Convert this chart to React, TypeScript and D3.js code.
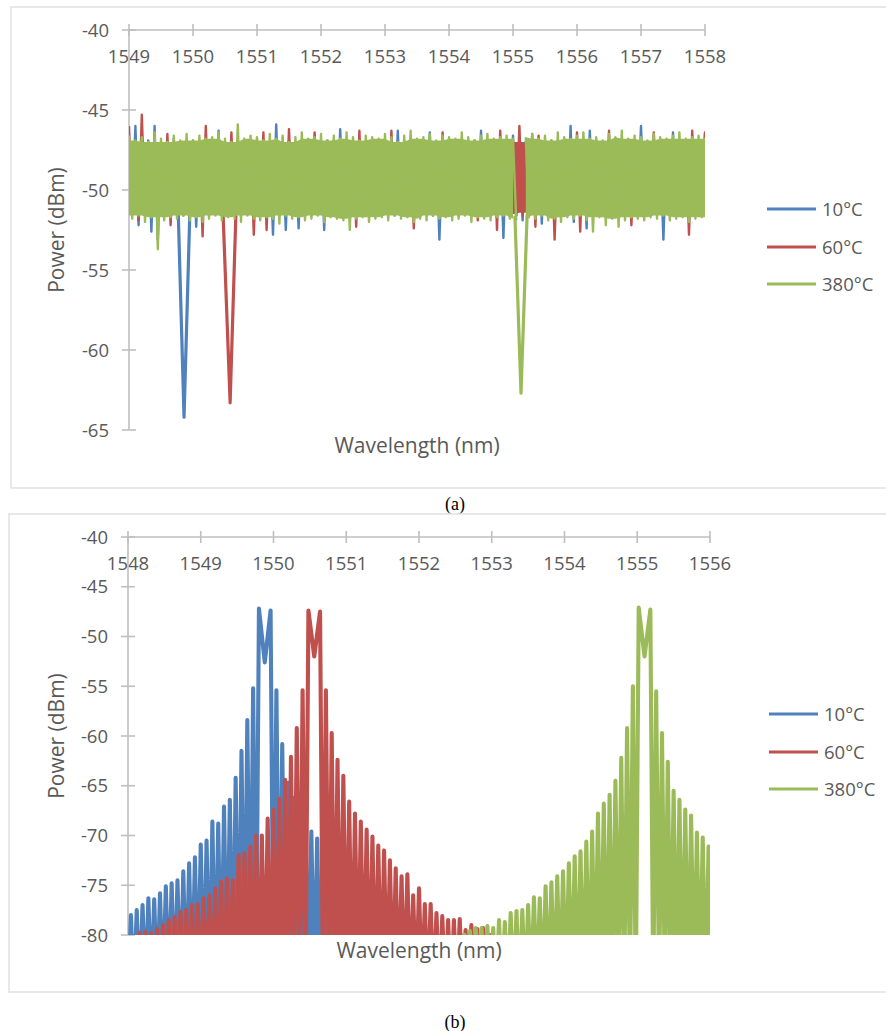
import React, { useEffect, useRef } from 'react';
import * as d3 from 'd3';

type Pt = [number, number | null];

// --- shared legend ---
const seriesNames = ['10°C', '60°C', '380°C'];
const seriesColors = ['#4f81bd', '#c0504d', '#9bbb59'];

// --- (a) transmission: samples every 0.1 nm from 1549.0, local max (hi) then local min (lo) ---
const aStart = 1549.0;
const aStep = 0.1;
const aXTicks = [1549, 1550, 1551, 1552, 1553, 1554, 1555, 1556, 1557, 1558];
const aYTicks = [-40, -45, -50, -55, -60, -65];

const blueHiA = [
  -47.0, -46.0, -47.1, -46.9, -46.0, -47.2, -47.0, -46.8, -47.1, -47.0,
  -46.9, -47.2, -47.0, -46.9, -46.3, -47.1, -47.0, -46.9, -47.2, -47.0,
  -46.8, -47.1, -47.0, -45.9, -47.1, -46.9, -47.0, -47.2, -46.9, -47.0,
  -47.1, -46.9, -47.0, -46.2, -47.1, -47.0, -46.9, -47.2, -47.0, -46.9,
  -47.1, -47.0, -46.3, -47.1, -47.0, -46.9, -47.2, -46.4, -47.0, -47.1,
  -46.9, -47.0, -47.2, -46.9, -47.0, -46.3, -47.1, -47.0, -46.9, -47.0,
  -46.6, -46.8, -47.0, -46.5, -47.1, -46.9, -47.0, -47.2, -46.9, -46.0,
  -47.0, -46.9, -46.3, -47.1, -47.0, -46.9, -47.2, -47.0, -46.9, -47.1,
  -46.0, -47.0, -47.1, -46.9, -47.0, -46.4, -47.1, -47.0, -46.9, -47.2, -46.5,
];
const blueLoA = [
  -51.5, -52.2, -51.4, -52.6, -53.1, -51.5, -51.3, -51.6, -51.4, -51.5,
  -52.3, -51.4, -51.6, -51.3, -51.5, -51.4, -51.6, -51.5, -51.3, -51.4,
  -51.6, -51.5, -52.8, -51.4, -52.5, -51.5, -52.4, -51.3, -51.6, -51.4,
  -52.5, -51.5, -51.4, -51.6, -51.3, -51.5, -51.4, -51.6, -51.5, -51.3,
  -51.4, -51.6, -51.5, -51.4, -51.6, -51.3, -51.5, -51.4, -53.1, -51.5,
  -51.4, -51.6, -51.5, -51.3, -51.4, -51.6, -51.5, -51.4, -53.0, -51.5,
  -51.6, -51.9, -51.4, -51.5, -52.1, -51.4, -51.6, -51.3, -51.5, -52.0,
  -51.4, -52.4, -51.5, -51.6, -51.3, -51.5, -51.4, -51.6, -51.5, -51.3,
  -51.4, -51.6, -51.5, -53.1, -51.4, -51.5, -51.6, -51.3, -51.5, -51.4, -52.3,
];
const redHiA = [
  -46.0, -47.1, -45.3, -47.0, -46.9, -47.2, -46.5, -47.0, -47.1, -46.9,
  -47.0, -47.2, -46.0, -47.1, -46.9, -47.0, -46.4, -47.1, -46.9, -47.0,
  -47.2, -46.4, -47.0, -46.9, -47.1, -46.2, -47.0, -46.9, -47.2, -46.4,
  -47.0, -47.1, -46.9, -47.0, -47.2, -46.9, -46.3, -47.0, -47.1, -46.9,
  -47.0, -46.3, -47.1, -46.9, -47.0, -47.2, -46.9, -47.0, -47.1, -46.4,
  -47.0, -46.9, -47.2, -47.0, -46.9, -47.1, -47.0, -46.9, -46.3, -47.0,
  -46.9, -46.0, -47.0, -47.1, -46.6, -47.0, -46.9, -47.2, -47.0, -46.9,
  -46.4, -47.1, -47.0, -46.9, -47.2, -46.3, -47.0, -46.9, -47.1, -47.0,
  -46.9, -47.2, -46.4, -47.0, -46.9, -47.1, -47.0, -46.9, -46.3, -47.0, -46.4,
];
const redLoA = [
  -51.5, -51.9, -51.4, -51.6, -51.5, -51.3, -52.2, -51.4, -51.6, -51.5,
  -51.4, -52.9, -51.5, -51.3, -51.6, -51.4, -51.5, -51.6, -51.4, -52.8,
  -51.5, -52.5, -51.4, -51.6, -51.3, -51.5, -51.4, -51.6, -51.5, -51.4,
  -51.3, -51.6, -51.5, -51.4, -51.6, -52.3, -51.5, -51.4, -51.3, -51.6,
  -51.5, -51.4, -51.6, -51.5, -52.4, -51.4, -51.5, -51.6, -51.3, -51.5,
  -51.4, -51.6, -51.5, -51.4, -51.9, -51.5, -51.6, -52.5, -51.4, -51.5,
  -51.6, -51.6, -51.4, -52.3, -51.5, -51.6, -53.1, -51.4, -51.5, -51.6,
  -52.6, -51.5, -51.4, -51.6, -51.5, -51.3, -51.6, -51.5, -52.2, -51.4,
  -51.6, -51.5, -51.4, -51.6, -51.5, -51.3, -51.5, -52.8, -51.4, -51.6, -51.5,
];
const greenHiA = [
  -46.6, -46.9, -46.7, -47.0, -46.4, -46.8, -47.0, -46.6, -46.9, -46.5,
  -46.9, -46.6, -46.8, -46.7, -46.4, -46.8, -47.0, -45.9, -46.8, -46.6,
  -46.7, -46.9, -46.5, -46.8, -46.6, -47.0, -46.7, -46.4, -46.8, -46.7,
  -46.5, -46.9, -46.6, -46.8, -46.4, -46.7, -46.9, -46.6, -46.7, -46.8,
  -46.5, -46.7, -47.0, -46.6, -46.3, -46.8, -46.7, -46.5, -46.9, -46.6,
  -46.7, -46.8, -46.4, -46.7, -46.9, -46.6, -46.5, -46.8, -46.7, -46.6,
  -46.8, null, -46.7, -46.5, -46.8, -46.6, -46.9, -46.4, -46.7, -46.8,
  -46.6, -46.4, -46.8, -46.7, -46.9, -46.5, -46.7, -46.3, -46.8, -46.6,
  -46.7, -46.9, -46.5, -46.7, -46.8, -46.6, -46.4, -46.8, -46.7, -46.6, -46.8,
];
const greenLoA = [
  -51.8, -51.6, -52.0, -51.7, -53.7, -51.9, -51.7, -51.8, -51.6, -51.9,
  -51.7, -52.0, -51.8, -51.6, -51.9, -51.7, -51.8, -52.0, -51.6, -51.8,
  -51.9, -51.7, -51.8, -52.1, -51.6, -51.8, -51.7, -51.9, -51.8, -51.6,
  -52.0, -51.7, -51.8, -51.9, -52.5, -51.8, -51.7, -52.0, -51.8, -51.7,
  -51.9, -51.6, -51.8, -51.7, -52.0, -51.8, -51.9, -51.6, -51.8, -51.7,
  -51.9, -51.8, -51.6, -52.0, -51.7, -51.8, -51.9, -51.7, -51.6, -51.8,
  -51.9, null, -51.7, -51.8, -51.6, -51.9, -51.8, -52.0, -51.7, -51.8,
  -51.6, -51.9, -52.6, -51.7, -52.2, -51.8, -52.3, -51.9, -51.7, -51.8,
  -51.9, -51.7, -51.8, -51.6, -51.9, -51.8, -51.7, -52.0, -51.8, -51.7, -51.8,
];
// notch of each grating: [wavelength, dBm]
const blueDipA: [number, number][] = [[1549.77, -51.5], [1549.86, -64.2], [1549.95, -51.5]];
const redDipA: [number, number][] = [[1550.47, -51.5], [1550.58, -63.3], [1550.67, -51.5]];
const greenDipA: [number, number][] = [[1555.03, -51.6], [1555.125, -62.7], [1555.22, -51.6]];

// --- (b) reflection: fringe maxima every 0.08 nm, minima fall below the axis ---
const bStep = 0.08;
const bFloor = -86;
const bXTicks = [1548, 1549, 1550, 1551, 1552, 1553, 1554, 1555, 1556];
const bYTicks = [-40, -45, -50, -55, -60, -65, -70, -75, -80];

const blueStartB = 1547.96;
const blueNotchB = 24;
const bluePeaksB = [
  -78.5, -78.0, -77.5, -77.0, -76.3, -76.4, -75.8, -75.1, -74.8, -74.5,
  -73.6, -72.8, -72.2, -70.9, -70.5, -68.6, -68.8, -67.1, -66.4, -64.2,
  -61.5, -58.4, -55.2, -47.2, -52.6, -47.4, -55.4, -60.8, -64.7, -66.2,
  -67.0, -68.4, -69.6, -70.3, -71.2, -72.0, -72.9, -73.5, -74.3, -74.8,
  -75.6, -76.0, -76.5, -77.1, -77.5, -78.0, -78.4, -78.9, -79.4,
];
const redStartB = 1548.16;
const redNotchB = 30;
const redPeaksB = [
  -79.6, -79.7, -79.8, -79.4, -79.0, -78.5, -78.2, -77.7, -77.5, -77.0,
  -76.9, -76.3, -76.0, -75.3, -74.6, -74.3, -74.5, -72.0, -71.8, -71.1,
  -70.0, -70.0, -68.3, -67.4, -66.3, -64.4, -62.1, -59.2, -55.4, -47.4,
  -52.0, -47.5, -55.4, -59.7, -62.4, -64.0, -66.6, -67.8, -68.6, -69.4,
  -70.1, -71.0, -71.5, -72.5, -73.3, -74.1, -73.9, -76.0, -75.3, -76.9,
  -76.9, -77.8, -78.1, -78.5, -78.5, -78.4, -79.5, -79.0, -79.4, -79.3,
  -79.8,
];
const greenStartB = 1552.62;
const greenNotchB = 31;
const greenPeaksB = [
  -79.8, -79.6, -79.3, -79.3, -79.1, -79.3, -78.5, -78.7, -77.8, -77.6,
  -77.5, -77.0, -76.2, -76.3, -75.1, -74.7, -74.1, -73.6, -72.8, -72.1,
  -71.6, -70.6, -69.6, -67.8, -66.8, -65.9, -64.5, -62.2, -59.2, -55.0,
  -47.1, -52.0, -47.3, -55.5, -59.7, -62.6, -65.5, -66.4, -67.4, -68.0,
  -69.7, -70.2, -71.1, -71.8,
];

const FONT = '"Open Sans", "DejaVu Sans", sans-serif';
const TEXT = '#595959';
const AXIS = '#bfbfbf';

// hi/lo samples -> one trace
const zigzag = (hi: (number | null)[], lo: (number | null)[]): Pt[] =>
  hi.flatMap((h, j) => [
    [aStart + j * aStep, h] as Pt,
    [aStart + j * aStep + aStep / 2, lo[j]] as Pt,
  ]);

// solid core of the noise band: innermost of neighbouring hi / lo samples
type Core = { w: number; top: number | null; bot: number | null };
const core = (hi: (number | null)[], lo: (number | null)[]): Core[] =>
  hi.map((h, j) => {
    if (h === null || lo[j] === null) return { w: aStart + j * aStep, top: null, bot: null };
    const near = (arr: (number | null)[]) =>
      [arr[j - 1], arr[j], arr[j + 1]].filter((v): v is number => v !== null && v !== undefined);
    return { w: aStart + j * aStep, top: Math.min(...near(hi)), bot: Math.max(...near(lo)) };
  });

// fringe maxima -> one trace, no minimum on either side of the centre notch
const fringe = (start: number, peaks: number[], notch: number): Pt[] => {
  const pts: Pt[] = [];
  peaks.forEach((p, i) => {
    const w = start + i * bStep;
    pts.push([w, p]);
    if (i < peaks.length - 1 && i !== notch - 1 && i !== notch) pts.push([w + bStep / 2, bFloor]);
  });
  return pts;
};

const App: React.FC = () => {
  const svgRef = useRef<SVGSVGElement | null>(null);

  useEffect(() => {
    if (!svgRef.current) return;
    const svg = d3.select(svgRef.current);
    svg.selectAll('*').remove();
    const defs = svg.append('defs');

    const panels = [
      {
        id: 'a',
        frame: [11, 7, 900, 481],
        x: d3.scaleLinear().domain([1549, 1558]).range([129, 705]),
        y: d3.scaleLinear().domain([-65, -40]).range([430, 30]),
        xTicks: aXTicks,
        yTicks: aYTicks,
        legend: { x: 767, ys: [209, 247, 284] },
        caption: '(a)',
        captionY: 510,
        widths: [2.4, 3.2],
        cores: [core(blueHiA, blueLoA), core(redHiA, redLoA), core(greenHiA, greenLoA)],
        traces: [
          [zigzag(blueHiA, blueLoA), blueDipA.map(d => d as Pt)],
          [zigzag(redHiA, redLoA), redDipA.map(d => d as Pt)],
          [zigzag(greenHiA, greenLoA), greenDipA.map(d => d as Pt)],
        ],
      },
      {
        id: 'b',
        frame: [9, 514, 900, 478],
        x: d3.scaleLinear().domain([1548, 1556]).range([128, 710]),
        y: d3.scaleLinear().domain([-80, -40]).range([935, 537]),
        xTicks: bXTicks,
        yTicks: bYTicks,
        legend: { x: 769, ys: [714, 752, 789] },
        caption: '(b)',
        captionY: 1028,
        widths: [4.1],
        cores: [] as Core[][],
        traces: [
          [fringe(blueStartB, bluePeaksB, blueNotchB)],
          [fringe(redStartB, redPeaksB, redNotchB)],
          [fringe(greenStartB, greenPeaksB, greenNotchB)],
        ],
      },
    ];

    panels.forEach(p => {
      const [fx, fy, fw, fh] = p.frame;
      const [x0, x1] = p.x.range();
      const [yb, yt] = p.y.range();
      const g = svg.append('g');

      // chart area border
      g.append('rect')
        .attr('x', fx).attr('y', fy).attr('width', fw).attr('height', fh)
        .attr('fill', 'white').attr('stroke', '#d9d9d9').attr('stroke-width', 1.2);

      // x axis sits at the top (-40 dBm)
      g.append('line')
        .attr('x1', x0).attr('x2', x1).attr('y1', yt).attr('y2', yt)
        .attr('stroke', AXIS).attr('stroke-width', 1.6);
      p.xTicks.forEach(t => {
        g.append('line')
          .attr('x1', p.x(t)).attr('x2', p.x(t)).attr('y1', yt - 6).attr('y2', yt + 6)
          .attr('stroke', AXIS).attr('stroke-width', 1.6);
        g.append('text')
          .attr('x', p.x(t)).attr('y', yt + 33).attr('text-anchor', 'middle')
          .attr('font-family', FONT).attr('font-size', 18.5).attr('fill', TEXT)
          .text(t);
      });

      // y axis
      g.append('line')
        .attr('x1', x0).attr('x2', x0).attr('y1', yt).attr('y2', yb)
        .attr('stroke', AXIS).attr('stroke-width', 1.6);
      p.yTicks.forEach(t => {
        g.append('line')
          .attr('x1', x0 - 7).attr('x2', x0 + 7).attr('y1', p.y(t)).attr('y2', p.y(t))
          .attr('stroke', AXIS).attr('stroke-width', 1.6);
        g.append('text')
          .attr('x', x0 - 20).attr('y', p.y(t) + 6.5).attr('text-anchor', 'end')
          .attr('font-family', FONT).attr('font-size', 18.5).attr('fill', TEXT)
          .text(t);
      });

      // axis titles
      g.append('text')
        .attr('x', (x0 + x1) / 2).attr('y', yb + 23).attr('text-anchor', 'middle')
        .attr('font-family', FONT).attr('font-size', 21).attr('fill', TEXT)
        .text('Wavelength (nm)');
      g.append('text')
        .attr('transform', `translate(64,${(yt + yb) / 2}) rotate(-90)`)
        .attr('text-anchor', 'middle')
        .attr('font-family', FONT).attr('font-size', 21).attr('fill', TEXT)
        .text('Power (dBm)');

      // traces
      defs.append('clipPath').attr('id', `clip-${p.id}`)
        .append('rect').attr('x', x0).attr('y', yt).attr('width', x1 - x0).attr('height', yb - yt);
      const line = d3.line<Pt>()
        .defined(d => d[1] !== null)
        .x(d => p.x(d[0]))
        .y(d => p.y(d[1] as number));
      const area = d3.area<Core>()
        .defined(d => d.top !== null)
        .x(d => p.x(d.w))
        .y0(d => p.y(d.bot as number))
        .y1(d => p.y(d.top as number));
      const plot = g.append('g').attr('clip-path', `url(#clip-${p.id})`);
      p.traces.forEach((parts, si) => {
        if (p.cores[si]) {
          plot.append('path')
            .attr('d', area(p.cores[si]))
            .attr('fill', seriesColors[si]);
        }
        parts.forEach((pts, k) => {
          plot.append('path')
            .attr('d', line(pts))
            .attr('fill', 'none')
            .attr('stroke', seriesColors[si])
            .attr('stroke-width', p.widths[Math.min(k, p.widths.length - 1)])
            .attr('stroke-linejoin', 'round');
        });
      });

      // legend
      seriesNames.forEach((name, si) => {
        const ly = p.legend.ys[si];
        g.append('line')
          .attr('x1', p.legend.x).attr('x2', p.legend.x + 49).attr('y1', ly).attr('y2', ly)
          .attr('stroke', seriesColors[si]).attr('stroke-width', 3);
        g.append('text')
          .attr('x', p.legend.x + 55).attr('y', ly + 6.5)
          .attr('font-family', FONT).attr('font-size', 18.5).attr('fill', TEXT)
          .text(name);
      });

      // caption
      svg.append('text')
        .attr('x', 455).attr('y', p.captionY).attr('text-anchor', 'middle')
        .attr('font-family', '"Liberation Serif", "Times New Roman", serif')
        .attr('font-size', 18).attr('fill', '#000')
        .text(p.caption);
    });
  }, []);

  return (
    <svg
      ref={svgRef}
      width={886}
      height={1031}
      style={{ position: 'absolute', left: 0, top: 0, background: '#fff' }}
    />
  );
};

export default App;
